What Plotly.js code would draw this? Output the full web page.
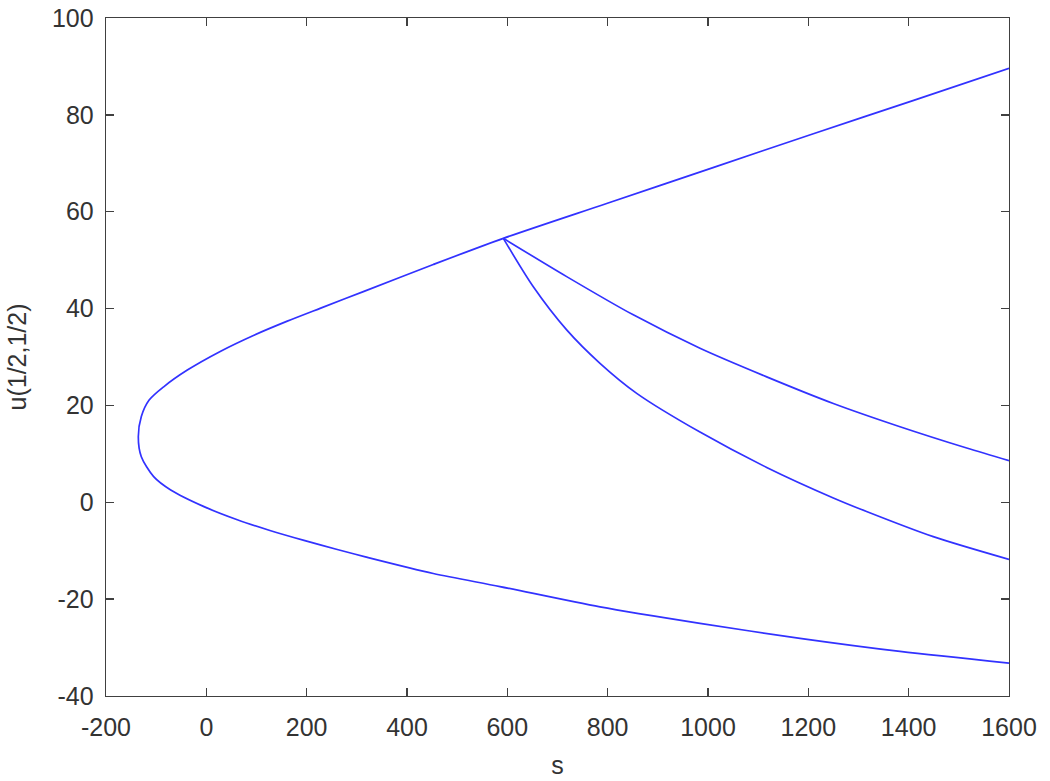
<!DOCTYPE html>
<html>
<head>
<meta charset="utf-8">
<script src="https://cdn.plot.ly/plotly-3.0.1.min.js"></script>
<style>html,body{margin:0;padding:0;background:#fff;}#chart{width:1050px;height:781px;}</style>
</head>
<body>
<div id="chart"></div>
<script>
// Main curve (fold): lower branch from right end back to the turning point, then the upper branch
const mainS = [1600, 1382.7, 1183.4, 984.0, 784.7, 585.4, 452.4, 317, 261, 194.7, 128.3, 61.7, -4.7, -71, -105, -129.6, -135.6,
               -129.6, -114, -84.4, -37.9, 28.6, 95, 161.4, 228, 314.3, 452.4, 592, 798, 1010, 1210, 1410, 1600];
const mainU = [-33.2, -30.8, -28.1, -25.0, -21.6, -17.4, -14.7, -11.27, -9.76, -7.87, -5.87, -3.61, -0.9, 2.54, 5.3, 9.42, 13.55,
               17.7, 21.1, 23.9, 27.3, 31.2, 34.5, 37.4, 40.1, 43.55, 49.1, 54.5, 61.7, 69.1, 76.1, 83.0, 89.6];
// Branch A (upper bifurcating branch)
const branchAS = [592, 718.3, 851.1, 984, 1117, 1249.8, 1382.7, 1515.7, 1600];
const branchAU = [54.5, 46.6, 38.7, 31.8, 25.9, 20.4, 15.6, 11.2, 8.6];
// Branch B (lower bifurcating branch)
const branchBS = [592, 651.8, 718.3, 784.7, 857.9, 984, 1117, 1249.8, 1316, 1449, 1600];
const branchBU = [54.5, 44.5, 35.6, 28.7, 22.5, 14.5, 7.2, 0.9, -1.9, -7.1, -11.8];

const xTicks = [-200, 0, 200, 400, 600, 800, 1000, 1200, 1400, 1600];
const yTicks = [-40, -20, 0, 20, 40, 60, 80, 100];

const lineStyle = {color: 'rgb(50,50,255)', width: 1.7, shape: 'spline', smoothing: 0.8};
const traces = [
  {x: mainS, y: mainU, mode: 'lines', line: lineStyle, hoverinfo: 'skip'},
  {x: branchAS, y: branchAU, mode: 'lines', line: lineStyle, hoverinfo: 'skip'},
  {x: branchBS, y: branchBU, mode: 'lines', line: lineStyle, hoverinfo: 'skip'}
];

const fontFam = 'Liberation Sans, Arial, sans-serif';
const axisCommon = {
  showgrid: false, zeroline: false, showline: true, linecolor: '#404040', linewidth: 1.3,
  mirror: 'ticks', ticks: 'inside', ticklen: 8, tickcolor: '#404040', tickwidth: 1.3,
  tickfont: {family: fontFam, size: 25, color: '#333'},
  automargin: false
};

const layout = {
  width: 1050, height: 781,
  margin: {l: 106, r: 41, t: 18, b: 85},
  paper_bgcolor: '#fff', plot_bgcolor: '#fff',
  showlegend: false,
  xaxis: Object.assign({}, axisCommon, {
    range: [-200, 1600], tickvals: xTicks, ticktext: xTicks.map(String),
    ticklabelstandoff: 9,
    title: {text: 's', font: {family: fontFam, size: 25, color: '#333'}, standoff: 16}
  }),
  yaxis: Object.assign({}, axisCommon, {
    range: [-40, 100], tickvals: yTicks, ticktext: yTicks.map(String),
    ticklabelstandoff: 6,
    title: {text: 'u(1/2,1/2)', font: {family: fontFam, size: 25, color: '#333'}, standoff: 18}
  })
};

Plotly.newPlot('chart', traces, layout, {staticPlot: true, displayModeBar: false});
</script>
</body>
</html>
